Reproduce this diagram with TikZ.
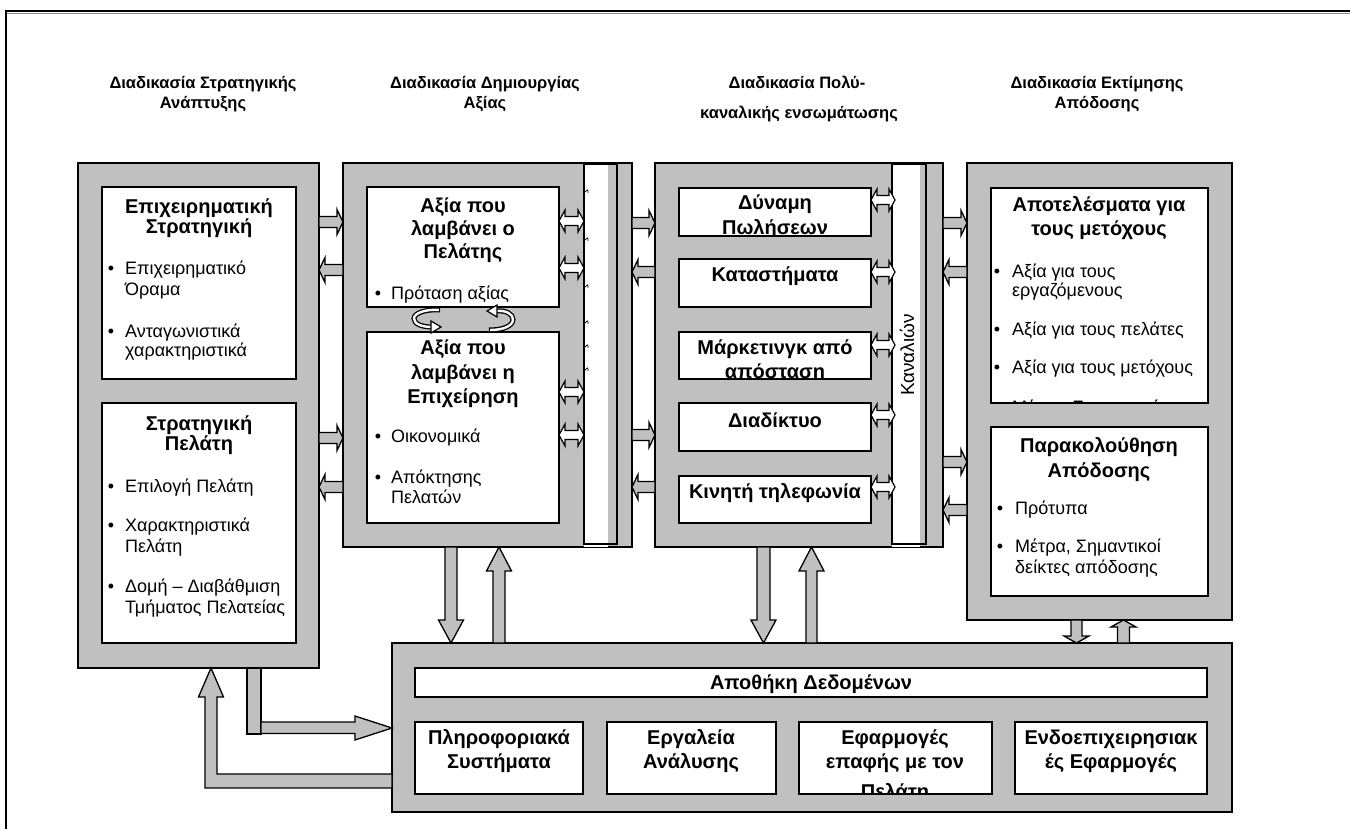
\documentclass[tikz,border=0pt]{standalone}
\usepackage{fontspec}
\setmainfont{Liberation Sans}
\usetikzlibrary{fit,calc}
\definecolor{boxgray}{HTML}{C0C0C0}
\newcounter{lbl}
% rectangle node spanning two corner points
\newcommand\mkbox[6]{\node[#6, fit={(#2,#3) (#4,#5)}] (#1) {};}
% one line of text as a named node
\newcommand\lbltext[4]{\stepcounter{lbl}\node[#1] (lbl\arabic{lbl}) at (#2,#3) {#4};}
% bullet item: bullet x, text x, baseline, text
\newcommand\bitem[4]{\lbltext{bul}{#1}{#3}{•}\lbltext{itm}{#2}{#3}{#4}}
% grey block arrows between two boxes at height #3
\newcommand\blkR[3]{\path[barrow] let \p1=(#1.east), \p2=(#2.west) in
  (\x1,{-(#3-5.5)*1pt}) -- ({\x2-6pt},{-(#3-5.5)*1pt}) -- ({\x2-6pt},{-(#3-12.5)*1pt})
  -- (\x2,{-#3*1pt}) -- ({\x2-6pt},{-(#3+12.5)*1pt}) -- ({\x2-6pt},{-(#3+5.5)*1pt})
  -- (\x1,{-(#3+5.5)*1pt}) -- cycle;}
\newcommand\blkL[3]{\path[barrow] let \p1=(#1.east), \p2=(#2.west) in
  (\x2,{-(#3-5.5)*1pt}) -- ({\x1+6pt},{-(#3-5.5)*1pt}) -- ({\x1+6pt},{-(#3-12.5)*1pt})
  -- (\x1,{-#3*1pt}) -- ({\x1+6pt},{-(#3+12.5)*1pt}) -- ({\x1+6pt},{-(#3+5.5)*1pt})
  -- (\x2,{-(#3+5.5)*1pt}) -- cycle;}
% white two-headed arrow, #4 = overshoot into the right box
\newcommand\blkLR[4]{\path[warrow] let \p1=(#1.east), \p2=(#2.west) in
  (\x1,{-#3*1pt}) -- ({\x1+6pt},{-(#3-11)*1pt}) -- ({\x1+6pt},{-(#3-4.5)*1pt})
  -- ({\x2+#4pt-6pt},{-(#3-4.5)*1pt}) -- ({\x2+#4pt-6pt},{-(#3-11)*1pt}) -- ({\x2+#4pt},{-#3*1pt})
  -- ({\x2+#4pt-6pt},{-(#3+11)*1pt}) -- ({\x2+#4pt-6pt},{-(#3+4.5)*1pt})
  -- ({\x1+6pt},{-(#3+4.5)*1pt}) -- ({\x1+6pt},{-(#3+11)*1pt}) -- cycle;}
% vertical block arrows: top node, bottom node, x, head length, shaft half width
\newcommand\blkDown[5]{\path[barrow] let \p1=(#1.south), \p2=(#2.north) in
  ({(#3-#5)*1pt},\y1) -- ({(#3-#5)*1pt},{\y2+#4pt}) -- ({(#3-12.5)*1pt},{\y2+#4pt})
  -- ({#3*1pt},\y2) -- ({(#3+12.5)*1pt},{\y2+#4pt}) -- ({(#3+#5)*1pt},{\y2+#4pt})
  -- ({(#3+#5)*1pt},\y1) -- cycle;}
\newcommand\blkUp[5]{\path[barrow] let \p1=(#1.south), \p2=(#2.north) in
  ({(#3-#5)*1pt},\y2) -- ({(#3-#5)*1pt},{\y1-#4pt}) -- ({(#3-12.5)*1pt},{\y1-#4pt})
  -- ({#3*1pt},\y1) -- ({(#3+12.5)*1pt},{\y1-#4pt}) -- ({(#3+#5)*1pt},{\y1-#4pt})
  -- ({(#3+#5)*1pt},\y2) -- cycle;}
\begin{document}
\begin{tikzpicture}[x=1pt,y=-1pt,
  gbox/.style={draw=black, fill=boxgray, line width=1.6pt, inner sep=0pt, outer sep=0pt, rectangle},
  wbox/.style={fill=white, inner sep=0pt, outer sep=0pt, rectangle},
  chbar/.style={draw=black, line width=1.6pt, inner sep=0pt, outer sep=0pt, rectangle},
  boxline/.style={draw=black, line width=1.6pt},
  barrow/.style={draw=black, fill=boxgray, line width=1.3pt, line join=miter},
  warrow/.style={draw=black, fill=white, line width=1.2pt, line join=miter},
  hdr/.style={font=\fontsize{16.5}{19}\selectfont\bfseries, anchor=base, inner sep=0pt},
  ttl/.style={font=\fontsize{20}{23}\selectfont\bfseries, anchor=base, inner sep=0pt},
  itm/.style={font=\fontsize{18}{21}\selectfont, anchor=base west, inner sep=0pt},
  bul/.style={font=\fontsize{18}{21}\selectfont, anchor=base, inner sep=0pt},
  rot/.style={font=\fontsize{19}{21}\selectfont, rotate=90, inner sep=0pt}]
\useasboundingbox (0,0) rectangle (1350,829);
\fill[white] (0,0) rectangle (1350,829);

% page frame
\draw[line width=2.4pt] (5,11) -- (1350,11);
\draw[line width=0.6pt, black!45] (6,13.6) -- (1350,13.6);
\draw[line width=1.3pt] (6,11) -- (6,829);

% column headings
\lbltext{hdr}{203}{89}{Διαδικασία Στρατηγικής}
\lbltext{hdr}{203}{109}{Ανάπτυξης}
\lbltext{hdr}{485}{89}{Διαδικασία Δημιουργίας}
\lbltext{hdr}{485}{109}{Αξίας}
\lbltext{hdr}{797}{89}{Διαδικασία Πολύ-}
\lbltext{hdr}{799}{119}{καναλικής ενσωμάτωσης}
\lbltext{hdr}{1097}{89}{Διαδικασία Εκτίμησης}
\lbltext{hdr}{1097}{109}{Απόδοσης}

% grey process panels
\mkbox{c1}{78}{163}{319}{668}{gbox}
\mkbox{c2}{343}{163}{632}{547}{gbox}
\mkbox{c3}{655}{163}{943}{547}{gbox}
\mkbox{c4}{967}{163}{1232}{620}{gbox}
\mkbox{db}{392}{643}{1232}{812}{gbox}

% white content boxes
\mkbox{c1a}{102}{187}{296}{379}{wbox}
\mkbox{c1b}{102}{403}{296}{643}{wbox}
\mkbox{c2a}{367}{187}{559}{307}{wbox}
\mkbox{c2b}{367}{332}{559}{523}{wbox}
\mkbox{c3a}{679}{188}{871}{236}{wbox}
\mkbox{c3b}{679}{259}{871}{307}{wbox}
\mkbox{c3c}{679}{332}{871}{379}{wbox}
\mkbox{c3d}{679}{403}{871}{451}{wbox}
\mkbox{c3e}{679}{476}{871}{523}{wbox}
\mkbox{c4a}{991}{188}{1208}{403}{wbox}
\mkbox{c4b}{991}{427}{1208}{596}{wbox}
\mkbox{dbs}{415}{668}{1207}{697}{wbox}
\mkbox{dba}{415}{722}{583}{794}{wbox}
\mkbox{dbb}{607}{722}{776}{794}{wbox}
\mkbox{dbc}{799}{722}{992}{794}{wbox}
\mkbox{dbd}{1015}{722}{1207}{794}{wbox}

% channel bars
\fill[white] (584,164) rectangle (608,547);
\fill[boxgray] (608,164) rectangle (616,544);
\mkbox{ch2}{584}{164}{617}{544}{chbar}
\fill[white] (892,164) rectangle (920,547);
\fill[boxgray] (920,164) rectangle (926,544);
\mkbox{ch3}{892}{164}{926}{544}{chbar}
\foreach \t in {192,240,287,323,347,370}
  \draw[line width=0.7pt] (585,\t) .. controls (588,\t-3) .. (588,\t+1);
\lbltext{rot}{907}{355}{Καναλιών}

% strategy texts
\lbltext{ttl}{199}{214}{Επιχειρηματική}
\lbltext{ttl}{199}{234}{Στρατηγική}
\bitem{111}{125}{275}{Επιχειρηματικό}
\lbltext{itm}{125}{295}{Όραμα}
\bitem{111}{125}{337}{Ανταγωνιστικά}
\lbltext{itm}{125}{356}{χαρακτηριστικά}
\lbltext{ttl}{199}{430}{Στρατηγική}
\lbltext{ttl}{199}{450}{Πελάτη}
\bitem{111}{125}{492}{Επιλογή Πελάτη}
\bitem{111}{125}{531}{Χαρακτηριστικά}
\lbltext{itm}{125}{552}{Πελάτη}
\bitem{111}{125}{592}{Δομή – Διαβάθμιση}
\lbltext{itm}{125}{613}{Τμήματος Πελατείας}

% value texts
\lbltext{ttl}{463}{213}{Αξία που}
\lbltext{ttl}{463}{236}{λαμβάνει ο}
\lbltext{ttl}{463}{259}{Πελάτης}
\bitem{378}{391}{299}{Πρόταση αξίας}
\lbltext{ttl}{463}{354}{Αξία που}
\lbltext{ttl}{463}{379}{λαμβάνει η}
\lbltext{ttl}{463}{403}{Επιχείρηση}
\bitem{378}{391}{442}{Οικονομικά}
\bitem{378}{391}{483}{Απόκτησης}
\lbltext{itm}{391}{503}{Πελατών}

% channel texts
\begin{scope}
\clip (c3a.south west) rectangle (c3a.north east);
\lbltext{ttl}{775}{210}{Δύναμη}
\lbltext{ttl}{775}{235}{Πωλήσεων}
\end{scope}
\lbltext{ttl}{775}{282}{Καταστήματα}
\begin{scope}
\clip (c3c.south west) rectangle (c3c.north east);
\lbltext{ttl}{775}{354}{Μάρκετινγκ από}
\lbltext{ttl}{775}{378}{απόσταση}
\end{scope}
\lbltext{ttl}{775}{427}{Διαδίκτυο}
\lbltext{ttl}{775}{498}{Κινητή τηλεφωνία}

% performance texts
\begin{scope}
\clip (c4a.south west) rectangle (c4a.north east);
\lbltext{ttl}{1099}{212}{Αποτελέσματα για}
\lbltext{ttl}{1099}{236}{τους μετόχους}
\bitem{997}{1012}{277}{Αξία για τους}
\lbltext{itm}{1012}{297}{εργαζόμενους}
\bitem{997}{1012}{335}{Αξία για τους πελάτες}
\bitem{997}{1012}{373}{Αξία για τους μετόχους}
\bitem{997}{1012}{413}{Μέτρα, Σημαντικοί}
\end{scope}
\lbltext{ttl}{1099}{452}{Παρακολούθηση}
\lbltext{ttl}{1099}{477}{Απόδοσης}
\bitem{1000}{1015}{514}{Πρότυπα}
\bitem{1000}{1015}{552}{Μέτρα, Σημαντικοί}
\lbltext{itm}{1015}{573}{δείκτες απόδοσης}

% data store texts
\lbltext{ttl}{811}{689}{Αποθήκη Δεδομένων}
\lbltext{ttl}{499}{744}{Πληροφοριακά}
\lbltext{ttl}{499}{768}{Συστήματα}
\lbltext{ttl}{691}{744}{Εργαλεία}
\lbltext{ttl}{691}{768}{Ανάλυσης}
\begin{scope}
\clip (dbc.south west) rectangle (dbc.north east);
\lbltext{ttl}{895}{744}{Εφαρμογές}
\lbltext{ttl}{895}{768}{επαφής με τον}
\lbltext{ttl}{895}{798}{Πελάτη}
\end{scope}
\lbltext{ttl}{1111}{744}{Ενδοεπιχειρησιακ}
\lbltext{ttl}{1111}{768}{ές Εφαρμογές}

% outlines of the white boxes
\foreach \b in {c1a,c1b,c2a,c2b,c3a,c3b,c3c,c3d,c3e,c4a,c4b,dbs,dba,dbb,dbc,dbd}
  \draw[boxline] (\b.south west) rectangle (\b.north east);

% arrows between the process panels
\blkR{c1}{c2}{222} \blkL{c1}{c2}{270} \blkR{c1}{c2}{438} \blkL{c1}{c2}{487}
\blkR{c2}{c3}{223} \blkL{c2}{c3}{272} \blkR{c2}{c3}{435} \blkL{c2}{c3}{487}
\blkR{c3}{c4}{223} \blkL{c3}{c4}{272} \blkR{c3}{c4}{462} \blkL{c3}{c4}{510}

% two-headed arrows into the channel bars
\blkLR{c2a}{ch2}{221}{0} \blkLR{c2a}{ch2}{268}{0}
\blkLR{c2b}{ch2}{392}{0} \blkLR{c2b}{ch2}{435}{0}
\blkLR{c3a}{ch3}{200}{3} \blkLR{c3b}{ch3}{272}{3} \blkLR{c3c}{ch3}{345}{3}
\blkLR{c3d}{ch3}{415}{3} \blkLR{c3e}{ch3}{487}{3}

% exchange between customer value and company value
\draw[line width=5pt] (440,310) .. controls (426,309) and (414,313) .. (414,318.5) .. controls (414,324) and (422,327) .. (432,327);
\draw[line width=2.4pt, white, shorten <=1.2pt] (440,310) .. controls (426,309) and (414,313) .. (414,318.5) .. controls (414,324) and (422,327) .. (432,327);
\draw[warrow] (431,321) -- (441,327) -- (431,333) -- cycle;
\draw[line width=5pt] (496,311) .. controls (506,310) and (513,314) .. (513,319.5) .. controls (513,326) and (503,330) .. (489,330);
\draw[line width=2.4pt, white, shorten >=1.2pt] (496,311) .. controls (506,310) and (513,314) .. (513,319.5) .. controls (513,326) and (503,330) .. (489,330);
\draw[warrow] (497,305) -- (487,311) -- (497,317) -- cycle;

% arrows to and from the data layer
\blkDown{c2}{db}{451}{23}{6}
\blkUp{c2}{db}{499}{24}{6}
\blkDown{c3}{db}{763.5}{23}{6.5}
\blkUp{c3}{db}{811.5}{24}{5.5}
\blkDown{c4}{db}{1076.5}{7}{5.5}
\blkUp{c4}{db}{1123.5}{7}{6}

% strategy to data layer
\path[barrow] let \p1=(c1.south) in (247pt,\y1) rectangle (261pt,-734pt);
\path[barrow] let \p1=(db.west) in
  (261pt,-722pt) -- ({\x1-37pt},-722pt) -- ({\x1-37pt},-716pt) -- (\x1,-728pt)
  -- ({\x1-37pt},-740pt) -- ({\x1-37pt},-733.5pt) -- (261pt,-733.5pt) -- cycle;
% feedback from data layer to strategy
\path[barrow] let \p1=(c1.south), \p2=(db.west) in
  (\x2,-774pt) -- (217pt,-774pt) -- (217pt,{\y1-29pt}) -- (223.5pt,{\y1-29pt})
  -- (211pt,\y1) -- (198.5pt,{\y1-29pt}) -- (205pt,{\y1-29pt}) -- (205pt,-788pt)
  -- (\x2,-788pt) -- cycle;
\end{tikzpicture}
\end{document}
